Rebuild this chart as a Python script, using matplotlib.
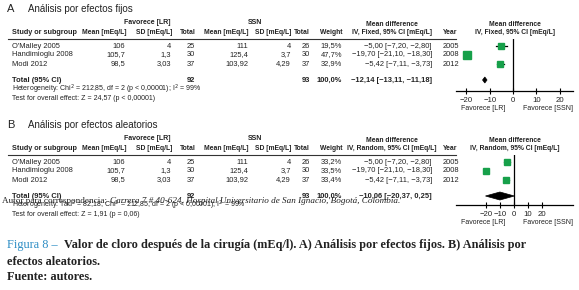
import numpy as np
import matplotlib
matplotlib.use('Agg')
from matplotlib import pyplot as plt

W, H = 579, 290

studies = ["O'Malley 2005", 'Handimioglu 2008', 'Modi 2012']
years = ['2005', '2008', '2012']
lr_mean = ['106', '105,7', '98,5']
lr_sd = ['4', '1,3', '3,03']
lr_n = [25, 30, 37]
ssn_mean = ['111', '125,4', '103,92']
ssn_sd = ['4', '3,7', '4,29']
ssn_n = [26, 30, 37]
md = [-5.00, -19.70, -5.42]
ci_lo = [-7.20, -21.10, -7.11]
ci_hi = [-2.80, -18.30, -3.73]
weight_fixed = [19.5, 47.7, 32.9]
weight_random = [33.2, 33.5, 33.4]

total_fixed = (-12.14, -13.11, -11.18)
total_random = (-10.06, -20.37, 0.25)
het_fixed = 'Heterogeneity: Chi$^2$ = 212,85, df = 2 (p < 0,00001); I$^2$ = 99%'
het_random = ('Heterogeneity: Tau$^2$ = 82,18, Chi$^2$ = 212,85, df = 2 '
              '(p < 0,00001); I$^2$ = 99%')
test_fixed = 'Test for overall effect: Z = 24,57 (p < 0,00001)'
test_random = 'Test for overall effect: Z = 1,91 (p = 0,06)'
ticks = [-20, -10, 0, 10, 20]

GREEN = '#17a04a'
TXT = '#222222'
SANS = 'Liberation Sans'
SERIF = 'Liberation Serif'


def fmt(v):
    return '{:.2f}'.format(v).replace('.', ',').replace('-', '\u2212')


def fmt_ci(m, lo, hi):
    return '{} [{}, {}]'.format(fmt(m), fmt(lo), fmt(hi))


def px_axes(fig, x0, y0, x1, y1):
    return fig.add_axes([x0 / W, 1 - y1 / H, (x1 - x0) / W, (y1 - y0) / H])


fig = plt.figure(figsize=(W / 100, H / 100), dpi=100)
base = fig.add_axes([0, 0, 1, 1])
base.set_xlim(0, W)
base.set_ylim(H, 0)
base.axis('off')


def t(x, y, s, ha='left', size=5.4, weight='normal', **kw):
    base.text(x, y, s, ha=ha, va='center', fontsize=size, family=SANS,
              weight=weight, color=TXT, **kw)


def panel(top, letter, title, method, weights, total, het, test, xlim, axis_y, hline):
    # panel title
    base.text(7, top, letter, ha='left', va='center', fontsize=8, family=SANS, color=TXT)
    base.text(28, top, title, ha='left', va='center', fontsize=7, family=SANS, color=TXT)
    g = top + 13
    t(147, g, 'Favorece [LR]', ha='center', size=5, weight='bold')
    t(255, g + 1, 'SSN', ha='center', size=5, weight='bold')
    h = top + 23
    hs = 4.9
    t(12, h, 'Study or subgroup', size=5.2, weight='bold')
    t(127, h, 'Mean [mEq/L]', ha='right', size=hs, weight='bold')
    t(172, h, 'SD [mEq/L]', ha='right', size=hs, weight='bold')
    t(196, h, 'Total', ha='right', size=hs, weight='bold')
    t(248, h, 'Mean [mEq/L]', ha='right', size=hs, weight='bold')
    t(291, h, 'SD [mEq/L]', ha='right', size=hs, weight='bold')
    t(310, h, 'Total', ha='right', size=hs, weight='bold')
    t(342, h, 'Weight', ha='right', size=hs, weight='bold')
    t(392, h - 8, 'Mean difference', ha='center', size=hs, weight='bold')
    t(392, h, 'IV, {}, 95% CI [mEq/L]'.format(method), ha='center', size=hs, weight='bold')
    t(443, h, 'Year', size=hs, weight='bold')
    t(515, h - 8, 'Mean difference', ha='center', size=hs, weight='bold')
    t(515, h, 'IV, {}, 95% CI [mEq/L]'.format(method), ha='center', size=hs, weight='bold')
    base.plot([8, 456], [hline, hline], color='#333333', lw=0.8)

    rows = [hline + 7, hline + 16, hline + 25]
    for i, y in enumerate(rows):
        t(12, y, studies[i])
        t(125, y, lr_mean[i], ha='right')
        t(171, y, lr_sd[i], ha='right')
        t(195, y, str(lr_n[i]), ha='right')
        t(248, y, ssn_mean[i], ha='right')
        t(291, y, ssn_sd[i], ha='right')
        t(310, y, str(ssn_n[i]), ha='right')
        t(342, y, '{:.1f}%'.format(weights[i]).replace('.', ','), ha='right')
        t(432, y, fmt_ci(md[i], ci_lo[i], ci_hi[i]), ha='right')
        t(443, y, years[i])
    ty = hline + 41
    t(12, ty, 'Total (95% CI)', weight='bold')
    t(195, ty, str(sum(lr_n)), ha='right', weight='bold')
    t(310, ty, str(sum(ssn_n)), ha='right', weight='bold')
    t(342, ty, '100,0%', ha='right', weight='bold')
    t(432, ty, fmt_ci(*total), ha='right', weight='bold')
    t(12, ty + 9, het, size=5.0)
    t(12, ty + 18, test, size=5.0)

    # forest plot
    ax = px_axes(fig, 456, hline, 573, axis_y)
    ax.set_xlim(*xlim)
    ax.set_ylim(axis_y, hline)
    ax.patch.set_alpha(0)
    for i, y in enumerate(rows):
        ax.plot([ci_lo[i], ci_hi[i]], [y, y], color='black', lw=0.9, zorder=2)
        ax.plot(md[i], y, marker='s', ms=np.sqrt(weights[i]) * 0.85,
                color=GREEN, mec=GREEN, zorder=3)
    m, lo, hi = total
    dh = 3 if method == 'Fixed' else 4
    ax.fill([lo, m, hi, m], [ty, ty - dh, ty, ty + dh], color='black', lw=0.5, zorder=3)
    ax.axvline(0, color='black', lw=0.9)
    for s in ['top', 'right', 'left']:
        ax.spines[s].set_visible(False)
    ax.spines['bottom'].set_linewidth(0.9)
    ax.set_yticks([])
    ax.set_xticks(ticks)
    ax.set_xticklabels([str(v).replace('-', '\u2212') for v in ticks],
                       fontsize=5.6, family=SANS, color=TXT)
    ax.tick_params(axis='x', direction='inout', length=5, width=0.8, pad=1.5)
    t(483, axis_y + 17, 'Favorece [LR]', ha='center', size=5.0)
    t(548, axis_y + 17, 'Favorece [SSN]', ha='center', size=5.0)


panel(9, 'A', 'Análisis por efectos fijos', 'Fixed', weight_fixed, total_fixed,
      het_fixed, test_fixed, (-24.5, 25.7), 91, 39)
panel(125, 'B', 'Análisis por efectos aleatorios', 'Random', weight_random, total_random,
      het_random, test_random, (-41.4, 42.1), 205, 155)

# overlapping footnote from the page
base.text(2, 201, 'Autor para correspondencia:', ha='left', va='center', fontsize=6.6,
          family=SERIF, color=TXT)
base.text(110, 201, 'Carrera 7 # 40-624, Hospital Universitario de San Ignacio, Bogotá, Colombia.',
          ha='left', va='center', fontsize=6.6, family=SERIF, style='italic', color=TXT)

# caption
cap = 8.8
base.text(7, 245, 'Figura 8 \u2013', ha='left', va='center', fontsize=cap, family=SERIF,
          color='#2b8cc4')
base.text(64, 245, 'Valor de cloro después de la cirugía (mEq/l). A)\u2009Análisis por efectos fijos. '
          'B)\u2009Análisis por', ha='left', va='center', fontsize=cap, family=SERIF,
          weight='bold', color=TXT)
base.text(7, 262, 'efectos aleatorios.', ha='left', va='center', fontsize=cap, family=SERIF,
          weight='bold', color=TXT)
base.text(7, 277, 'Fuente: autores.', ha='left', va='center', fontsize=cap, family=SERIF,
          weight='bold', color=TXT)

fig.savefig('out.png', dpi=100)
